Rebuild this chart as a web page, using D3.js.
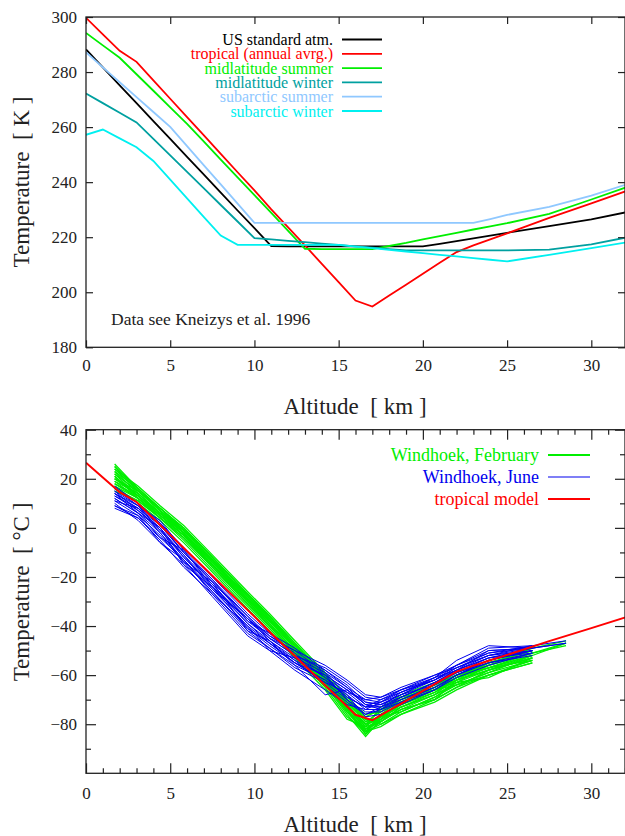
<!DOCTYPE html>
<html>
<head>
<meta charset="utf-8">
<script src="https://cdn.jsdelivr.net/npm/d3@7"></script>
<style>
  body { margin: 0; background: #fff; }
</style>
</head>
<body>
<svg id="chart" width="625" height="836"></svg>
<script>
// AFGL model atmospheres (altitude in km, temperature in K)
const afglAlt = [0, 1, 2, 3, 4, 5, 6, 7, 8, 9, 10, 11, 12, 13, 14, 15, 16, 17, 18, 19, 20,
  21, 22, 23, 24, 25, 27.5, 30, 32.5];
const usStandard = [288.2, 281.7, 275.2, 268.7, 262.2, 255.7, 249.2, 242.7, 236.2, 229.7, 223.3,
  216.8, 216.7, 216.7, 216.7, 216.7, 216.7, 216.7, 216.7, 216.7, 216.7,
  217.6, 218.6, 219.6, 220.6, 221.6, 224.0, 226.5, 229.6];
const tropical = [299.7, 293.7, 287.7, 283.7, 277.0, 270.3, 263.6, 257.0, 250.3, 243.6, 237.0,
  230.1, 223.6, 217.0, 210.3, 203.7, 197.0, 194.8, 198.8, 202.7, 206.7,
  210.7, 214.6, 217.0, 219.2, 221.4, 227.0, 232.3, 237.7];
const midlatSummer = [294.2, 289.7, 285.2, 279.2, 273.2, 267.2, 261.2, 254.7, 248.2, 241.7, 235.3,
  228.8, 222.3, 215.8, 215.7, 215.7, 215.7, 215.7, 216.8, 217.9, 219.2,
  220.4, 221.6, 222.8, 223.9, 225.1, 228.5, 233.7, 239.0];
const midlatWinter = [272.2, 268.7, 265.2, 261.7, 255.7, 249.7, 243.7, 237.7, 231.7, 225.7, 219.7,
  219.2, 218.7, 218.2, 217.7, 217.2, 216.7, 216.2, 215.7, 215.2, 215.2,
  215.2, 215.2, 215.2, 215.2, 215.2, 215.5, 217.4, 220.4];
const subarcticSummer = [287.2, 281.7, 276.3, 270.9, 265.5, 260.1, 253.1, 246.1, 239.2, 232.2, 225.2,
  225.2, 225.2, 225.2, 225.2, 225.2, 225.2, 225.2, 225.2, 225.2, 225.2,
  225.2, 225.2, 225.2, 226.6, 228.1, 231.0, 235.1, 240.0];
const subarcticWinter = [257.2, 259.1, 255.9, 252.7, 247.7, 240.9, 234.1, 227.3, 220.6, 217.2, 217.2,
  217.2, 217.2, 217.2, 217.2, 217.2, 216.6, 216.0, 215.4, 214.8, 214.2,
  213.6, 213.0, 212.4, 211.8, 211.2, 213.6, 216.0, 218.5];

const modelNames = ["US standard atm.", "tropical (annual avrg.)", "midlatitude summer",
  "midlatitude winter", "subarctic summer", "subarctic winter"];
const modelColors = ["#000000", "#ff0000", "#00ee00", "#00a0a0", "#8fc8ff", "#00f0f0"];
const models = [usStandard, tropical, midlatSummer, midlatWinter, subarcticSummer, subarcticWinter];

// Windhoek radiosondes (altitude in km, temperature in deg C)
const sondeAlt = [1.7, 3.1, 4.4, 5.8, 7.5, 9.6, 10.9, 12.4, 14.2, 15.5, 16.6, 17.5, 18.7,
  20.7, 22.0, 23.9, 26.5, 28.5];
const februarySondes = [
  [26, 16, 8, 0, -12, -27, -36, -47, -60, -70, -77, -74, -68, -63, -59, -54, -49, -46],
  [22, 15, 7, -1, -13, -28, -37, -48, -61, -72, -80, -77, -71, -65, -60, -55, -50, null],
  [20, 14, 6, -2, -14, -29, -38, -49, -62, -73, -82, -78, -72, -66, -61, -56, -51, null],
  [18, 13, 5, -3, -15, -30, -39, -50, -63, -74, -84, -79, -73, -67, -62, -57, -52, -47],
  [24, 15, 7, -1, -13, -28, -37, -49, -62, -74, -83, -80, -75, -69, -63, -58, -53, null],
  [16, 11, 4, -4, -16, -31, -40, -51, -64, -76, -85, -78, -74, -68, -64, -60, -55, null],
  [21, 12, 5, -3, -15, -29, -39, -50, -62, -73, -81, -76, -70, -65, -61, -57, -54, null],
  [25, 16, 8, 0, -12, -27, -36, -48, -61, -71, -78, -80, -76, -70, -62, -55, -50, null],
  [19, 12, 4, -5, -17, -32, -41, -52, -65, -77, -83, -77, -71, -64, -60, -56, -51, -48],
  [23, 14, 6, -2, -14, -28, -37, -48, -60, -71, -79, -75, -69, -66, -64, -59, -52, null],
  [17, 10, 3, -6, -18, -33, -42, -53, -66, -78, -81, -73, -69, -64, -60, -55, -50, null],
  [22, 13, 6, -1, -13, -29, -38, -49, -61, -72, -80, -78, -72, -67, -62, -58, -53, null],
  [15, 11, 4, -4, -16, -30, -40, -51, -63, -75, -84, -76, -72, -66, -61, -55, -51, null],
  [20, 15, 7, -2, -14, -27, -36, -47, -60, -70, -78, -79, -73, -68, -63, -56, -49, null],
  [24, 17, 9, 1, -11, -26, -35, -46, -59, -69, -76, -75, -70, -64, -60, -57, -52, null],
  [19, 14, 6, -1, -13, -28, -38, -48, -61, -73, -82, -79, -74, -70, -65, -60, -55, null],
  [21, 13, 5, -2, -14, -29, -38, -49, -62, -74, -83, -81, -76, -71, -66, -60, -54, null],
  [18, 12, 5, -3, -15, -30, -39, -50, -62, -73, -80, -74, -72, -66, -63, -61, -53, null],
  [23, 16, 7, 0, -12, -27, -37, -48, -60, -71, -79, -77, -73, -68, -61, -57, -51, -47],
  [17, 12, 4, -3, -16, -31, -40, -51, -64, -75, -82, -77, -75, -69, -64, -59, -54, null],
  [25, 15, 8, -1, -13, -28, -37, -49, -61, -72, -81, -79, -74, -70, -65, -58, -52, null],
  [20, 13, 6, -2, -15, -30, -39, -50, -63, -74, -83, -78, -71, -66, -62, -58, -53, null]
];
const juneSondes = [
  [17, 10, 2, -8, -20, -35, -43, -49, -58, -65, -70, -69, -65, -60, -56, -51, -48, -46],
  [15, 9, 1, -10, -22, -37, -44, -51, -60, -66, -72, -71, -67, -62, -57, -52, -49, null],
  [13, 7, -1, -12, -24, -39, -46, -53, -61, -67, -73, -73, -69, -63, -58, -53, -50, null],
  [11, 5, -3, -14, -26, -41, -48, -55, -62, -68, -74, -74, -70, -64, -59, -54, -50, null],
  [9, 4, -5, -16, -27, -43, -49, -57, -63, -70, -75, -75, -71, -65, -60, -55, -51, null],
  [14, 8, 0, -11, -23, -38, -45, -52, -58, -64, -71, -72, -68, -61, -56, -49, -48, null],
  [12, 6, -2, -13, -25, -40, -47, -54, -64, -71, -76, -74, -69, -63, -58, -53, -49, -47],
  [16, 9, 3, -9, -21, -36, -44, -50, -59, -68, -77, -76, -72, -66, -61, -56, -51, null],
  [10, 3, -6, -15, -28, -44, -50, -58, -66, -72, -74, -71, -66, -62, -57, -52, -50, null],
  [13, 8, 1, -10, -22, -36, -45, -52, -57, -63, -69, -70, -67, -62, -56, -50, -49, null],
  [8, 4, -4, -13, -26, -42, -49, -56, -62, -69, -73, -72, -68, -64, -59, -55, -52, null],
  [15, 7, 0, -12, -23, -39, -47, -55, -60, -66, -72, -73, -70, -65, -60, -54, -50, null],
  [14, 6, -4, -9, -24, -37, -45, -50, -56, -62, -68, -69, -66, -61, -54, -48, -49, null],
  [11, 8, -2, -14, -22, -42, -46, -56, -68, -66, -71, -72, -69, -63, -59, -53, -51, null],
  [16, 10, 2, -10, -21, -38, -43, -52, -61, -69, -73, -70, -66, -60, -57, -51, -49, -47],
  [9, 5, -6, -13, -27, -40, -50, -53, -59, -65, -72, -74, -71, -66, -60, -54, -50, null],
  [12, 6, 0, -15, -24, -41, -47, -55, -63, -67, -70, -71, -68, -62, -58, -52, -48, null],
  [14, 9, -1, -11, -25, -37, -46, -54, -60, -70, -76, -73, -67, -61, -58, -50, -49, null]
];

const sondeNames = ["Windhoek, February", "Windhoek, June", "tropical model"];
const sondeColors = ["#00ee00", "#0000ee", "#ff0000"];

const serif = "'Liberation Serif', 'Times New Roman', Times, Tinos, 'DejaVu Serif', 'Noto Serif', serif";
const svg = d3.select("#chart").attr("font-family", serif);
const left = 86, right = 625;

function frame(g, x, y) {
  g.append("rect")
    .attr("x", x.range()[0]).attr("y", y.range()[1])
    .attr("width", x.range()[1] - x.range()[0])
    .attr("height", y.range()[0] - y.range()[1])
    .attr("fill", "none").attr("stroke", "#222").attr("stroke-width", 1.3);
}

// inward ticks, optional labels
function ticks(g, axis, transform, size, values, labels) {
  const a = g.append("g").attr("transform", transform)
    .call(axis.tickValues(values).tickSizeInner(-size).tickSizeOuter(0)
      .tickPadding(size + 8)
      .tickFormat(labels ? (d => String(d).replace("-", "\u2212")) : ""));
  a.attr("font-family", serif).attr("font-size", 17);
  a.select(".domain").remove();
  a.selectAll("line").attr("stroke", "#222").attr("stroke-width", 1.2);
  a.selectAll("text").attr("fill", "#222");
  return a;
}

// ---------- top panel ----------
const x1 = d3.scaleLinear().domain([0, 32]).range([left, right]);
const y1 = d3.scaleLinear().domain([180, 300]).range([347.3, 17]);
const topPanel = svg.append("g");

topPanel.append("clipPath").attr("id", "clip1").append("rect")
  .attr("x", left).attr("y", 17).attr("width", right - left).attr("height", 330.3);

const line1 = d3.line().x((d, i) => x1(afglAlt[i])).y(d => y1(d));
topPanel.append("g").attr("clip-path", "url(#clip1)")
  .selectAll("path").data(models).enter().append("path")
  .attr("d", d => line1(d))
  .attr("fill", "none")
  .attr("stroke", (d, i) => modelColors[i])
  .attr("stroke-width", 1.8);

const xt1 = d3.range(0, 31, 5), yt1 = d3.range(180, 301, 20);
ticks(topPanel, d3.axisBottom(x1), "translate(0,347.3)", 7, xt1, true)
  .selectAll("text").attr("dy", "0.5em");
ticks(topPanel, d3.axisTop(x1), "translate(0,17)", 7, xt1, false);
ticks(topPanel, d3.axisLeft(y1), "translate(86,0)", 7, yt1, true)
  .selectAll("text").attr("dx", 6);
ticks(topPanel, d3.axisRight(y1), `translate(${right},0)`, 7, yt1, false);
frame(topPanel, x1, y1);

// legend
modelNames.forEach((name, i) => {
  const yy = 39.5 + i * 14.3;
  topPanel.append("text").attr("x", 333).attr("y", yy + 5.5).attr("text-anchor", "end")
    .attr("font-size", 16).attr("fill", modelColors[i]).text(name);
  topPanel.append("line").attr("x1", 342).attr("x2", 382).attr("y1", yy).attr("y2", yy)
    .attr("stroke", modelColors[i]).attr("stroke-width", 1.8);
});

topPanel.append("text").attr("x", 111).attr("y", 325).attr("font-size", 17.5).attr("fill", "#222")
  .text("Data see Kneizys et al. 1996");

topPanel.append("text").attr("x", 355).attr("y", 414).attr("text-anchor", "middle")
  .attr("font-size", 23).attr("fill", "#222").style("white-space", "pre")
  .text("Altitude  [ km ]");
topPanel.append("text").attr("transform", "translate(29,182) rotate(-90)").attr("text-anchor", "middle")
  .attr("font-size", 23).attr("fill", "#222").style("white-space", "pre")
  .text("Temperature  [ K ]");

// ---------- bottom panel ----------
const x2 = d3.scaleLinear().domain([0, 32]).range([left, right]);
const y2 = d3.scaleLinear().domain([-100, 40]).range([773.3, 429.7]);
const botPanel = svg.append("g");

botPanel.append("clipPath").attr("id", "clip2").append("rect")
  .attr("x", left).attr("y", 429.7).attr("width", right - left).attr("height", 343.6);

const sondeLine = d3.line().defined(d => d !== null)
  .x((d, i) => x2(sondeAlt[i])).y(d => y2(d));
const plot2 = botPanel.append("g").attr("clip-path", "url(#clip2)");

plot2.append("g").selectAll("path").data(februarySondes).enter().append("path")
  .attr("d", d => sondeLine(d)).attr("fill", "none")
  .attr("stroke", sondeColors[0]).attr("stroke-width", 1.3);
plot2.append("g").selectAll("path").data(juneSondes).enter().append("path")
  .attr("d", d => sondeLine(d)).attr("fill", "none")
  .attr("stroke", sondeColors[1]).attr("stroke-width", 1);

const modelLine = d3.line().x((d, i) => x2(afglAlt[i])).y(d => y2(d - 273.15));
plot2.append("path").attr("d", modelLine(tropical)).attr("fill", "none")
  .attr("stroke", sondeColors[2]).attr("stroke-width", 2);

const xt2 = d3.range(0, 31, 5), xm2 = d3.range(0, 33, 1).filter(d => d % 5 !== 0);
const yt2 = d3.range(-80, 41, 20), ym2 = d3.range(-90, 40, 20);
ticks(botPanel, d3.axisBottom(x2), "translate(0,773.3)", 10, xt2, true)
  .selectAll("text").attr("dy", "0.45em");
ticks(botPanel, d3.axisBottom(x2), "translate(0,773.3)", 5, xm2, false);
ticks(botPanel, d3.axisTop(x2), "translate(0,429.7)", 10, xt2, false);
ticks(botPanel, d3.axisTop(x2), "translate(0,429.7)", 5, xm2, false);
ticks(botPanel, d3.axisLeft(y2), "translate(86,0)", 10, yt2, true)
  .selectAll("text").attr("dx", 9);
ticks(botPanel, d3.axisLeft(y2), "translate(86,0)", 5, ym2, false);
ticks(botPanel, d3.axisRight(y2), `translate(${right},0)`, 10, yt2, false);
ticks(botPanel, d3.axisRight(y2), `translate(${right},0)`, 5, ym2, false);
frame(botPanel, x2, y2);

sondeNames.forEach((name, i) => {
  const yy = 455 + i * 22;
  botPanel.append("text").attr("x", 539).attr("y", yy + 6).attr("text-anchor", "end")
    .attr("font-size", 18).attr("fill", sondeColors[i]).text(name);
  botPanel.append("line").attr("x1", 548).attr("x2", 590).attr("y1", yy).attr("y2", yy)
    .attr("stroke", sondeColors[i]).attr("stroke-width", i === 1 ? 1.2 : 2);
});

botPanel.append("text").attr("x", 355).attr("y", 832).attr("text-anchor", "middle")
  .attr("font-size", 23).attr("fill", "#222").style("white-space", "pre")
  .text("Altitude  [ km ]");
botPanel.append("text").attr("transform", "translate(29,592) rotate(-90)").attr("text-anchor", "middle")
  .attr("font-size", 23).attr("fill", "#222").style("white-space", "pre")
  .text("Temperature  [ \u00b0C ]");
</script>
</body>
</html>
